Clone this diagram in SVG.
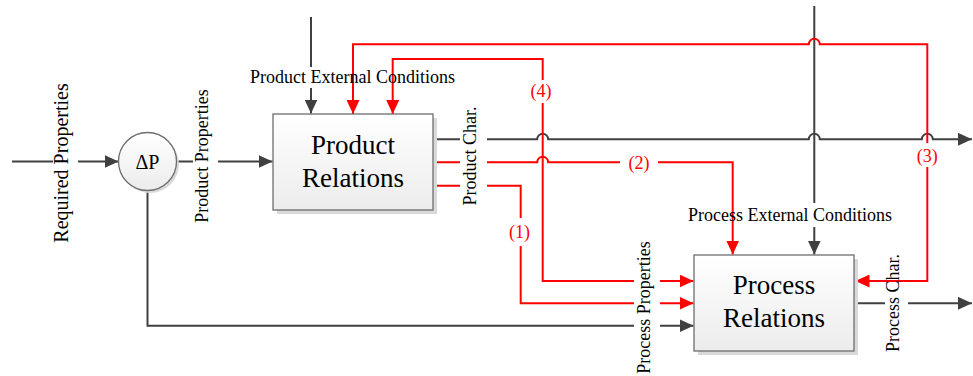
<svg xmlns="http://www.w3.org/2000/svg" width="973" height="376" viewBox="0 0 973 376">
  <defs>
    <style>
      .k { fill: none; stroke: #404040; stroke-width: 2; }
      .r { fill: none; stroke: #ff0000; stroke-width: 2; }
      .lbl { font-family: "Liberation Serif", "Times New Roman", serif; font-size: 18px; fill: #000000; }
      .num { font-family: "Liberation Serif", "Times New Roman", serif; font-size: 18px; fill: #ff0000; text-anchor: middle; }
      .big { font-family: "Liberation Serif", "Times New Roman", serif; font-size: 27px; fill: #000000; text-anchor: middle; }
      .box { fill: url(#boxfill); stroke: #6e6e6e; stroke-width: 1.3; }
      .shadow { fill: #d9d9d9; }
    </style>
    <linearGradient id="boxfill" x1="0" y1="0" x2="0" y2="1">
      <stop offset="0" stop-color="#ffffff"/>
      <stop offset="1" stop-color="#ececec"/>
    </linearGradient>
    <marker id="ak" markerUnits="userSpaceOnUse" markerWidth="14" markerHeight="13" viewBox="0 0 14 13" refX="14" refY="6.5" orient="auto-start-reverse">
      <path d="M0,0 L14,6.5 L0,13 z" fill="#404040"/>
    </marker>
    <marker id="ar" markerUnits="userSpaceOnUse" markerWidth="14" markerHeight="13" viewBox="0 0 14 13" refX="14" refY="6.5" orient="auto-start-reverse">
      <path d="M0,0 L14,6.5 L0,13 z" fill="#ff0000"/>
    </marker>
  </defs>
  <rect width="973" height="376" fill="#ffffff"/>

  <g id="connectors">
    <path id="c-required" class="k" d="M12,161.5 H53 M78,161.5 H118.5" marker-end="url(#ak)"/>
    <path id="c-product-properties" class="k" d="M176.5,161.5 H193 M218,161.5 H272.5" marker-end="url(#ak)"/>
    <path id="c-product-ext" class="k" d="M311,17 V67 M311,88 V113.5" marker-end="url(#ak)"/>
    <path id="c-deltap-process" class="k" d="M147.5,190.5 V325.7 H634 M660,325.7 H693.5" marker-end="url(#ak)"/>
    <path id="c-product-char" class="k" d="M434,139.3 H460 M487,139.3 H537.2 A5.5,5.5 0 0 1 548.2,139.3 H808.8 A5.5,5.5 0 0 1 819.8,139.3 H921.8 A5.5,5.5 0 0 1 932.8,139.3 H972" marker-end="url(#ak)"/>
    <path id="c-process-ext" class="k" d="M814.3,6 V203 M814.3,227 V254.5" marker-end="url(#ak)"/>
    <path id="c-process-char" class="k" d="M855.5,303.3 H885 M908,303.3 H972" marker-end="url(#ak)"/>
    <path id="c-3" class="r" d="M353,114 V44.3 H808.8 A5.5,5.5 0 0 1 819.8,44.3 H927.3 V143 M927.3,167 V281 H855.5" marker-start="url(#ar)" marker-end="url(#ar)"/>
    <path id="c-4" class="r" d="M392.7,114 V59 H542.7 V80 M542.7,103 V281 H634 M660,281 H693.5" marker-start="url(#ar)" marker-end="url(#ar)"/>
    <path id="c-2" class="r" d="M434,162.3 H460 M487,162.3 H537.2 A5.5,5.5 0 0 1 548.2,162.3 H620 M658,162.3 H732.7 V254.5" marker-end="url(#ar)"/>
    <path id="c-1" class="r" d="M434,185.7 H460 M487,185.7 H520.7 V218 M520.7,246 V303.3 H634 M660,303.3 H693.5" marker-end="url(#ar)"/>
  </g>

  <g id="connector-labels">
    <text class="lbl" font-size="20" text-anchor="middle" transform="translate(68,163) rotate(-90)" style="font-size:20px">Required Properties</text>
    <text class="lbl" text-anchor="middle" transform="translate(208,156) rotate(-90)">Product Properties</text>
    <text class="lbl" text-anchor="middle" x="352.5" y="83">Product External Conditions</text>
    <text class="lbl" text-anchor="middle" transform="translate(476,156) rotate(-90)">Product Char.</text>
    <text class="lbl" text-anchor="middle" x="790" y="221">Process External Conditions</text>
    <text class="lbl" text-anchor="middle" transform="translate(649.5,307.5) rotate(-90)">Process Properties</text>
    <text class="lbl" text-anchor="middle" transform="translate(899,303) rotate(-90)">Process Char.</text>
    <text class="num" x="541" y="97">(4)</text>
    <text class="num" x="639" y="169">(2)</text>
    <text class="num" x="519.5" y="238">(1)</text>
    <text class="num" x="927.3" y="162">(3)</text>
  </g>

  <g id="delta-p">
    <circle cx="150" cy="164" r="29" class="shadow"/>
    <circle cx="147.5" cy="161.5" r="29" class="box"/>
    <text x="147.5" y="168.5" font-family="Liberation Serif, Times New Roman, serif" font-size="20" text-anchor="middle">ΔP</text>
  </g>

  <g id="product-relations">
    <rect x="277" y="118" width="160" height="96" class="shadow"/>
    <rect x="273" y="114" width="160" height="96" class="box"/>
    <text class="big" x="353" y="154">Product</text>
    <text class="big" x="353" y="186.5">Relations</text>
  </g>

  <g id="process-relations">
    <rect x="698" y="259" width="160" height="96" class="shadow"/>
    <rect x="694" y="255" width="160" height="96" class="box"/>
    <text class="big" x="774" y="294">Process</text>
    <text class="big" x="774" y="327">Relations</text>
  </g>
</svg>
